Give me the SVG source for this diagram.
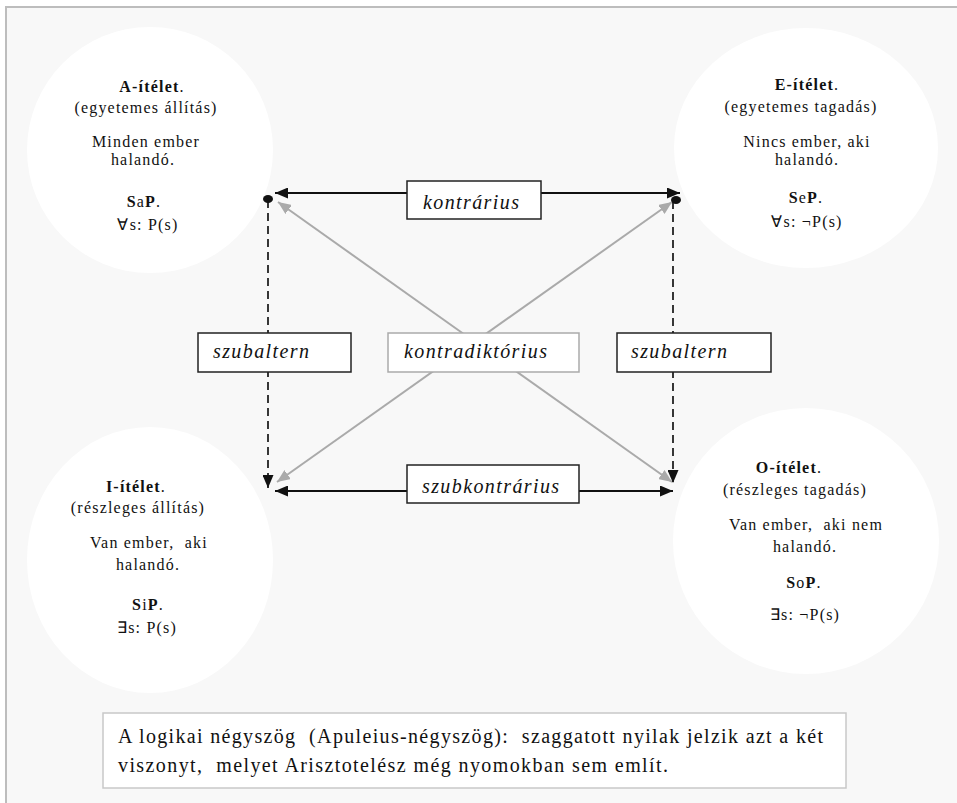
<svg xmlns="http://www.w3.org/2000/svg" width="957" height="803" viewBox="0 0 957 803">
<defs>
<marker id="ab" markerUnits="userSpaceOnUse" markerWidth="13" markerHeight="11" refX="13" refY="5.5" orient="auto-start-reverse"><path d="M0,0 L13,5.5 L0,11 z" fill="#111"/></marker>
<marker id="ag" markerUnits="userSpaceOnUse" markerWidth="13" markerHeight="11" refX="13" refY="5.5" orient="auto-start-reverse"><path d="M0,0 L13,5.5 L0,11 z" fill="#aaa"/></marker>
</defs>
<rect x="0" y="0" width="957" height="803" fill="#fff"/>
<rect x="6" y="7" width="951" height="796" fill="#f8f8f8"/>
<path d="M6,803 V7 H957" stroke="#bdbdbd" stroke-width="2" fill="none"/>

<g id="node-A" font-size="16" fill="#111" text-anchor="middle" letter-spacing="1.2">
<ellipse cx="150" cy="150" rx="123" ry="123" fill="#fff"/>
<text font-family="Times New Roman" x="152" y="92" font-weight="bold">A-ítélet<tspan font-weight="normal">.</tspan></text>
<text font-family="Times New Roman" x="146" y="113">(egyetemes állítás)</text>
<text font-family="Times New Roman" x="146" y="147">Minden ember</text>
<text font-family="Times New Roman" x="143" y="165">halandó.</text>
<text font-family="Times New Roman" x="144" y="207"><tspan font-weight="bold">S</tspan>a<tspan font-weight="bold">P</tspan>.</text>
<text font-family="Times New Roman" x="148" y="230">∀s: P(s)</text>
</g>

<g id="node-E" font-size="16" fill="#111" text-anchor="middle" letter-spacing="1.2">
<ellipse cx="806" cy="148" rx="132" ry="120" fill="#fff"/>
<text font-family="Times New Roman" x="807" y="90" font-weight="bold">E-ítélet<tspan font-weight="normal">.</tspan></text>
<text font-family="Times New Roman" x="801" y="112">(egyetemes tagadás)</text>
<text font-family="Times New Roman" x="807" y="147">Nincs ember, aki</text>
<text font-family="Times New Roman" x="807" y="165">halandó.</text>
<text font-family="Times New Roman" x="806" y="203"><tspan font-weight="bold">S</tspan>e<tspan font-weight="bold">P</tspan>.</text>
<text font-family="Times New Roman" x="807" y="227">∀s: ¬P(s)</text>
</g>

<g id="node-I" font-size="16" fill="#111" text-anchor="middle" letter-spacing="1.2">
<ellipse cx="150" cy="560" rx="123" ry="133" fill="#fff"/>
<text font-family="Times New Roman" x="136" y="492" font-weight="bold">I-ítélet<tspan font-weight="normal">.</tspan></text>
<text font-family="Times New Roman" x="138" y="513">(részleges állítás)</text>
<text font-family="Times New Roman" x="149" y="548" xml:space="preserve">Van ember,  aki</text>
<text font-family="Times New Roman" x="148" y="570">halandó.</text>
<text font-family="Times New Roman" x="148" y="610"><tspan font-weight="bold">S</tspan>i<tspan font-weight="bold">P</tspan>.</text>
<text font-family="Times New Roman" x="147" y="633">∃s: P(s)</text>
</g>

<g id="node-O" font-size="16" fill="#111" text-anchor="middle" letter-spacing="1.2">
<ellipse cx="806" cy="541" rx="133" ry="133" fill="#fff"/>
<text font-family="Times New Roman" x="789" y="473" font-weight="bold">O-ítélet<tspan font-weight="normal">.</tspan></text>
<text font-family="Times New Roman" x="795" y="495">(részleges tagadás)</text>
<text font-family="Times New Roman" x="806" y="530" xml:space="preserve">Van ember,  aki nem</text>
<text font-family="Times New Roman" x="805" y="552">halandó.</text>
<text font-family="Times New Roman" x="804" y="588"><tspan font-weight="bold">S</tspan>o<tspan font-weight="bold">P</tspan>.</text>
<text font-family="Times New Roman" x="805" y="620">∃s: ¬P(s)</text>
</g>

<g id="connectors" fill="none">
<g stroke="#aaa" stroke-width="2" marker-start="url(#ag)" marker-end="url(#ag)">
<line x1="278" y1="202" x2="672" y2="482"/>
<line x1="672" y1="202" x2="277" y2="482"/>
</g>
<g stroke="#111" stroke-width="1.8" marker-start="url(#ab)" marker-end="url(#ab)">
<line x1="275" y1="193" x2="680" y2="193"/>
<line x1="275" y1="491" x2="673" y2="491"/>
</g>
<g stroke="#222" stroke-width="1.8" stroke-dasharray="8 5" marker-end="url(#ab)">
<line x1="268" y1="200" x2="268" y2="488"/>
<line x1="673" y1="201" x2="673" y2="483"/>
</g>
<ellipse cx="268" cy="199" rx="5" ry="4" fill="#111"/>
<ellipse cx="676" cy="200" rx="5" ry="4" fill="#111"/>
</g>

<g id="labels" font-size="20" font-style="italic" fill="#111" letter-spacing="1.4">
<g id="label-kontrarius">
<rect x="407" y="181" width="134" height="38" fill="#fff" stroke="#222" stroke-width="1.5"/>
<text font-family="Times New Roman" x="423" y="209">kontrárius</text>
</g>
<g id="label-szubaltern-left">
<rect x="198" y="333" width="153" height="39" fill="#fff" stroke="#222" stroke-width="1.5"/>
<text font-family="Times New Roman" x="213" y="358">szubaltern</text>
</g>
<g id="label-kontradiktorius">
<rect x="388" y="333" width="191" height="39" fill="#fff" stroke="#aaa" stroke-width="1.5"/>
<text font-family="Times New Roman" x="404" y="358">kontradiktórius</text>
</g>
<g id="label-szubaltern-right">
<rect x="617" y="333" width="154" height="39" fill="#fff" stroke="#222" stroke-width="1.5"/>
<text font-family="Times New Roman" x="631" y="358">szubaltern</text>
</g>
<g id="label-szubkontrarius">
<rect x="407" y="465" width="172" height="38" fill="#fff" stroke="#222" stroke-width="1.5"/>
<text font-family="Times New Roman" x="422" y="493">szubkontrárius</text>
</g>
</g>

<g id="caption" font-size="20" fill="#111">
<rect x="103" y="713" width="743" height="75" fill="#fff" stroke="#c8c8c8" stroke-width="1.5"/>
<text font-family="Times New Roman" x="118" y="743" xml:space="preserve" textLength="705" lengthAdjust="spacing">A logikai négyszög  (Apuleius-négyszög):  szaggatott nyilak jelzik azt a két</text>
<text font-family="Times New Roman" x="118" y="772" xml:space="preserve" textLength="550" lengthAdjust="spacing">viszonyt,  melyet Arisztotelész még nyomokban sem említ.</text>
</g>
</svg>
